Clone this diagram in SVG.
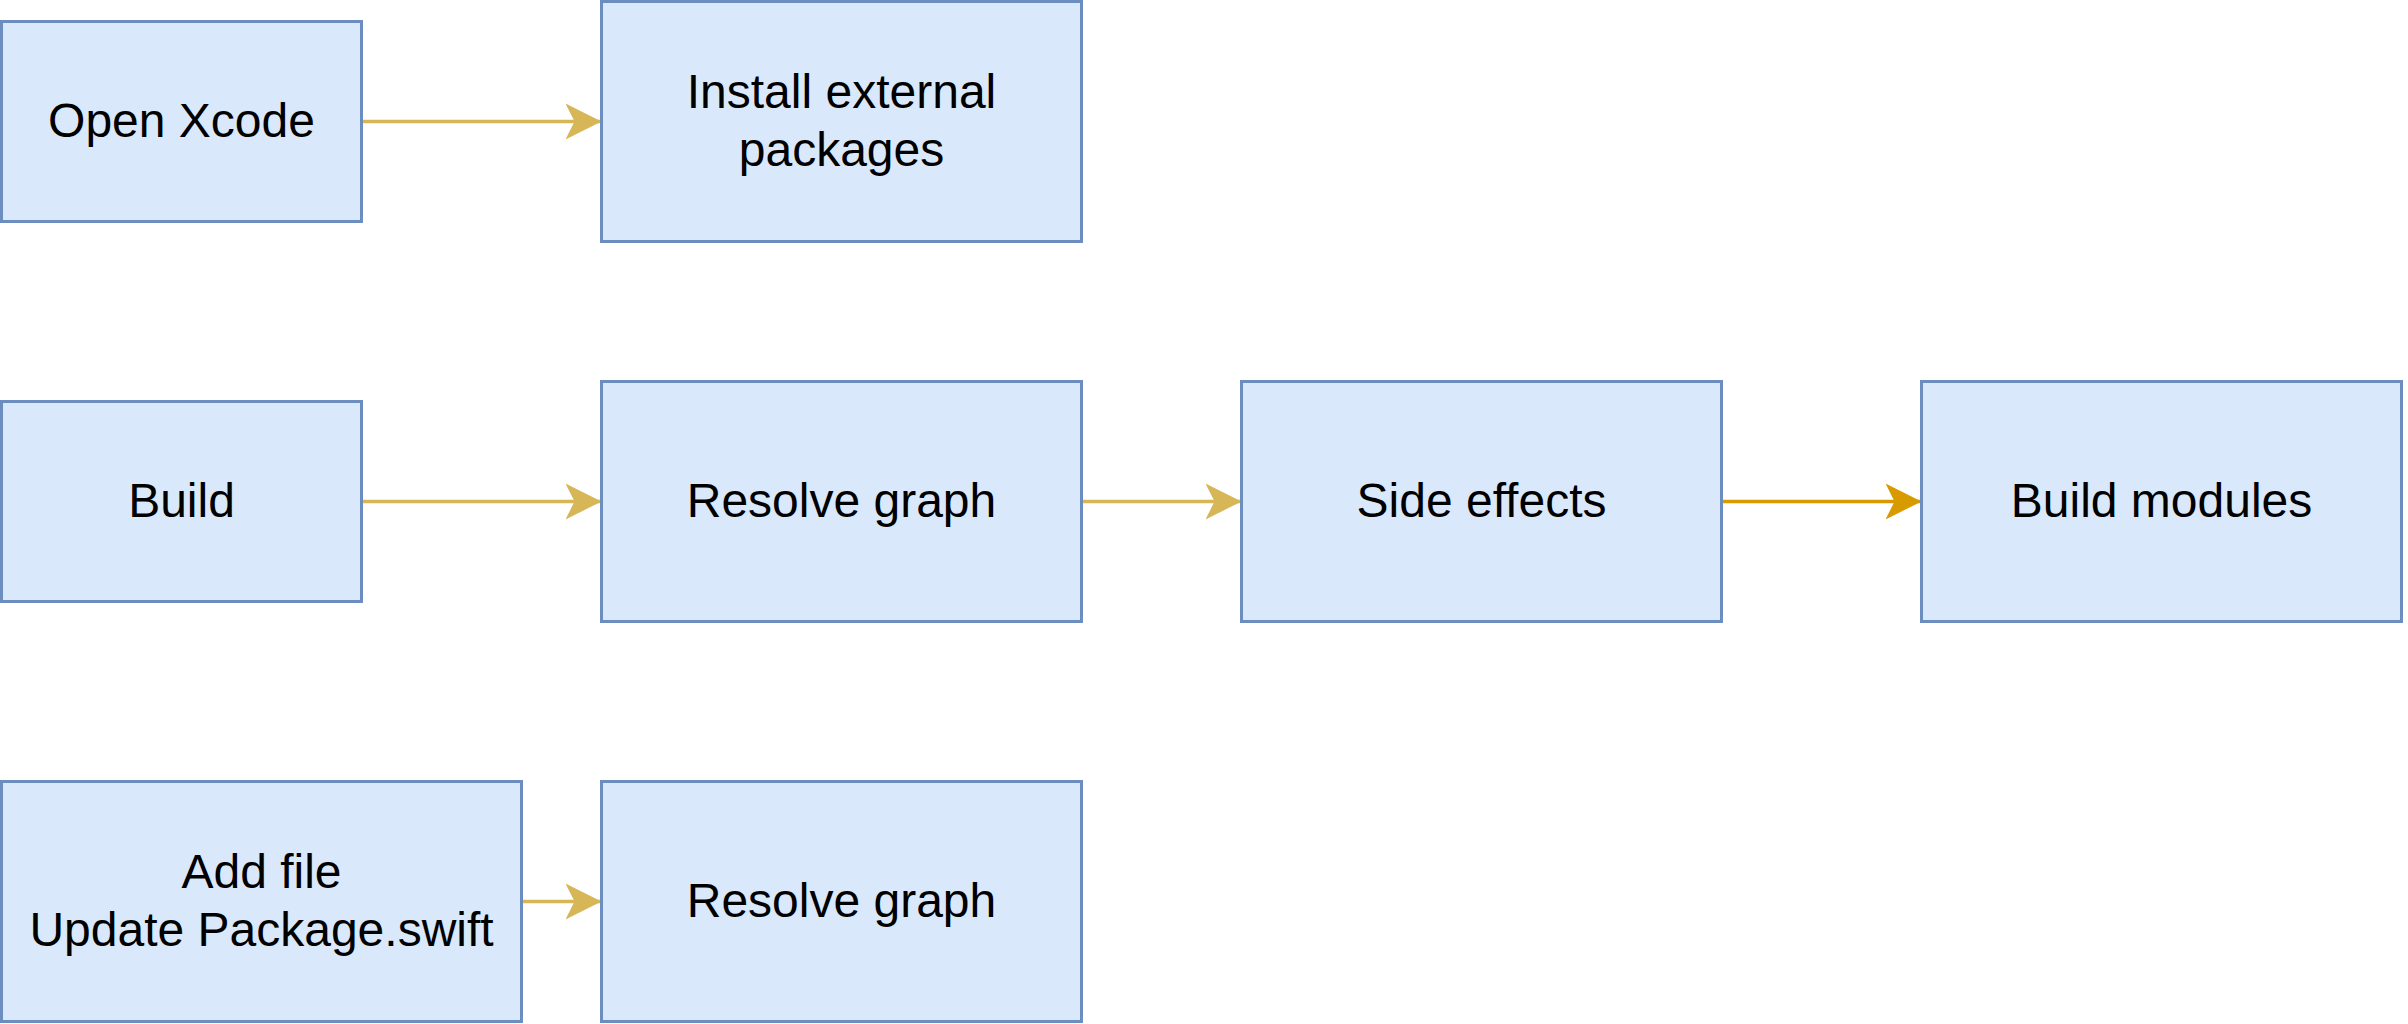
<svg xmlns="http://www.w3.org/2000/svg" width="2408" height="1024" viewBox="0 0 2408 1024">
<style>
.box{fill:#dae8fc;stroke:#6c8ebf;stroke-width:3}
.lbl{font-family:"Liberation Sans",Arial,Helvetica,sans-serif;font-size:48px;fill:#000;text-anchor:middle}
.ey{fill:none;stroke:#d6b656;stroke-width:3.5}
.eo{fill:none;stroke:#d79b00;stroke-width:3.5}
</style>
<defs>
<marker id="ay" markerUnits="userSpaceOnUse" markerWidth="40" markerHeight="40" refX="36" refY="18" orient="auto" viewBox="0 0 40 40">
<path d="M36,18 L0,0 L9,18 L0,36 Z" fill="#d6b656"/>
</marker>
<marker id="ao" markerUnits="userSpaceOnUse" markerWidth="40" markerHeight="40" refX="36" refY="18" orient="auto" viewBox="0 0 40 40">
<path d="M36,18 L0,0 L9,18 L0,36 Z" fill="#d79b00"/>
</marker>
</defs>
<rect width="2408" height="1024" fill="#fff"/>
<g id="connectors">
<line class="ey" x1="361.5" y1="121.5" x2="601.5" y2="121.5" marker-end="url(#ay)"/>
<line class="ey" x1="361.5" y1="501.5" x2="601.5" y2="501.5" marker-end="url(#ay)"/>
<line class="ey" x1="1081.5" y1="501.5" x2="1241.5" y2="501.5" marker-end="url(#ay)"/>
<line class="eo" x1="1721.5" y1="501.5" x2="1921.5" y2="501.5" marker-end="url(#ao)"/>
<line class="ey" x1="521.5" y1="901.5" x2="601.5" y2="901.5" marker-end="url(#ay)"/>
</g>
<g id="open-xcode">
<rect class="box" x="1.5" y="21.5" width="360" height="200"/>
<text class="lbl" x="181.5" y="137">Open Xcode</text>
</g>
<g id="install-external-packages">
<rect class="box" x="601.5" y="1.5" width="480" height="240"/>
<text class="lbl" x="841.5" y="108.2">Install external</text>
<text class="lbl" x="841.5" y="165.8">packages</text>
</g>
<g id="build">
<rect class="box" x="1.5" y="401.5" width="360" height="200"/>
<text class="lbl" x="181.5" y="517">Build</text>
</g>
<g id="resolve-graph">
<rect class="box" x="601.5" y="381.5" width="480" height="240"/>
<text class="lbl" x="841.5" y="517">Resolve graph</text>
</g>
<g id="side-effects">
<rect class="box" x="1241.5" y="381.5" width="480" height="240"/>
<text class="lbl" x="1481.5" y="517">Side effects</text>
</g>
<g id="build-modules">
<rect class="box" x="1921.5" y="381.5" width="480" height="240"/>
<text class="lbl" x="2161.5" y="517">Build modules</text>
</g>
<g id="add-file">
<rect class="box" x="1.5" y="781.5" width="520" height="240"/>
<text class="lbl" x="261.5" y="888.2">Add file</text>
<text class="lbl" x="261.5" y="945.8">Update Package.swift</text>
</g>
<g id="resolve-graph-2">
<rect class="box" x="601.5" y="781.5" width="480" height="240"/>
<text class="lbl" x="841.5" y="917">Resolve graph</text>
</g>
</svg>
